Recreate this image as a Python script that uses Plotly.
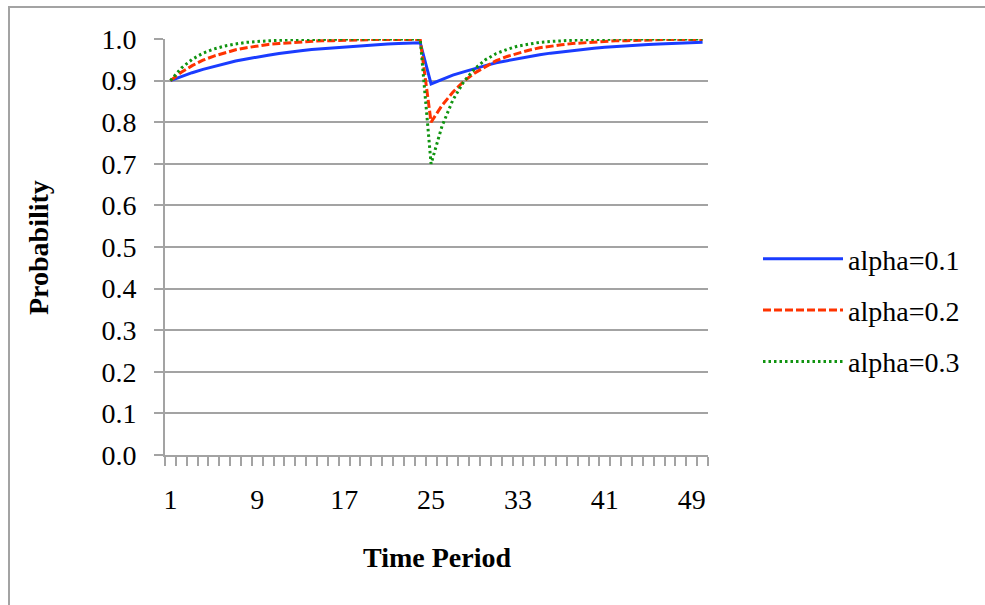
import plotly.graph_objects as go

periods = list(range(1, 51))

alpha_01 = [0.900, 0.910, 0.919, 0.927, 0.934, 0.941, 0.947, 0.952, 0.957, 0.961,
            0.965, 0.969, 0.972, 0.975, 0.977, 0.979, 0.981, 0.983, 0.985, 0.986,
            0.988, 0.989, 0.990, 0.991, 0.892, 0.903, 0.913, 0.921, 0.929, 0.936,
            0.943, 0.948, 0.953, 0.958, 0.962, 0.966, 0.969, 0.973, 0.975, 0.978,
            0.980, 0.982, 0.984, 0.985, 0.987, 0.988, 0.989, 0.990, 0.991, 0.992]

alpha_02 = [0.900, 0.920, 0.936, 0.949, 0.959, 0.967, 0.974, 0.979, 0.983, 0.987,
            0.989, 0.991, 0.993, 0.994, 0.996, 0.996, 0.997, 0.998, 0.998, 0.999,
            0.999, 0.999, 0.999, 0.999, 0.800, 0.840, 0.872, 0.898, 0.918, 0.934,
            0.948, 0.958, 0.966, 0.973, 0.979, 0.983, 0.986, 0.989, 0.991, 0.993,
            0.994, 0.996, 0.996, 0.997, 0.998, 0.998, 0.999, 0.999, 0.999, 0.999]

alpha_03 = [0.900, 0.930, 0.951, 0.966, 0.976, 0.983, 0.988, 0.992, 0.994, 0.996,
            0.997, 0.998, 0.999, 0.999, 0.999, 1.000, 1.000, 1.000, 1.000, 1.000,
            1.000, 1.000, 1.000, 1.000, 0.700, 0.790, 0.853, 0.897, 0.928, 0.950,
            0.965, 0.975, 0.983, 0.988, 0.992, 0.994, 0.996, 0.997, 0.998, 0.999,
            0.999, 1.000, 1.000, 1.000, 1.000, 1.000, 1.000, 1.000, 1.000, 1.000]

series_names = ["alpha=0.1", "alpha=0.2", "alpha=0.3"]
x_tick_labels = [1, 9, 17, 25, 33, 41, 49]
y_tick_values = [round(i * 0.1, 1) for i in range(11)]

FONT = "Liberation Serif"
GRAY = "#a3a3a3"

W, H = 985, 605
L, R, T, B = 165, 277, 39, 150
pw, ph = W - L - R, H - T - B

def px_x(p):
    return (p - L) / pw

def px_y(p):
    return (H - B - p) / ph

fig = go.Figure()
styles = [
    dict(color="#1a3cff", width=3, dash="solid"),
    dict(color="#ff3300", width=3, dash="8px,3px"),
    dict(color="#109410", width=3, dash="2.5px,3px"),
]
for name, vals, st, grp in zip(series_names, [alpha_01, alpha_02, alpha_03], styles, ["a", "b", "c"]):
    fig.add_trace(go.Scatter(x=periods, y=vals, mode="lines", name=name,
                             line=st, legendgroup=grp))

fig.update_layout(
    width=W, height=H,
    margin=dict(l=L, r=R, t=T, b=B, autoexpand=False),
    paper_bgcolor="white", plot_bgcolor="white",
    font=dict(family=FONT, size=28, color="black"),
    showlegend=True,
    legend=dict(x=px_x(758), y=px_y(234), xanchor="left", yanchor="top",
                font=dict(family=FONT, size=28, color="black"),
                itemwidth=80, tracegroupgap=12, bgcolor="rgba(0,0,0,0)"),
)

fig.update_xaxes(
    range=[0.5, 50.5], tickmode="array", tickvals=x_tick_labels,
    ticktext=[str(v) for v in x_tick_labels], ticks="", showgrid=False,
    showline=True, linecolor=GRAY, linewidth=2, zeroline=False,
    ticklabelstandoff=18,
    minor=dict(tickmode="linear", tick0=0.5, dtick=1, ticks="outside",
               ticklen=9, tickcolor=GRAY, tickwidth=2, showgrid=False),
    tickfont=dict(family=FONT, size=28, color="black"),
)
fig.update_yaxes(
    range=[0, 1], tickmode="array", tickvals=y_tick_values,
    ticktext=[f"{v:.1f}" for v in y_tick_values],
    ticks="outside", ticklen=9, tickcolor=GRAY, tickwidth=2,
    showgrid=True, gridcolor=GRAY, gridwidth=2,
    showline=True, linecolor=GRAY, linewidth=2, zeroline=False,
    ticklabelstandoff=12,
    tickfont=dict(family=FONT, size=28, color="black"),
)

# outer chart border (only top and left visible in the window)
fig.add_shape(type="rect", xref="paper", yref="paper",
              x0=px_x(9), x1=px_x(1200), y0=px_y(800), y1=px_y(7),
              line=dict(color=GRAY, width=2), fillcolor="rgba(0,0,0,0)", layer="below")

fig.add_annotation(text="<b>Time Period</b>", xref="paper", yref="paper",
                   x=px_x(437), y=px_y(557), showarrow=False,
                   xanchor="center", yanchor="middle",
                   font=dict(family=FONT, size=28, color="black"))
fig.add_annotation(text="<b>Probability</b>", xref="paper", yref="paper",
                   x=px_x(38), y=px_y(247), showarrow=False, textangle=-90,
                   xanchor="center", yanchor="middle",
                   font=dict(family=FONT, size=28, color="black"))

fig.write_html("out.html")
